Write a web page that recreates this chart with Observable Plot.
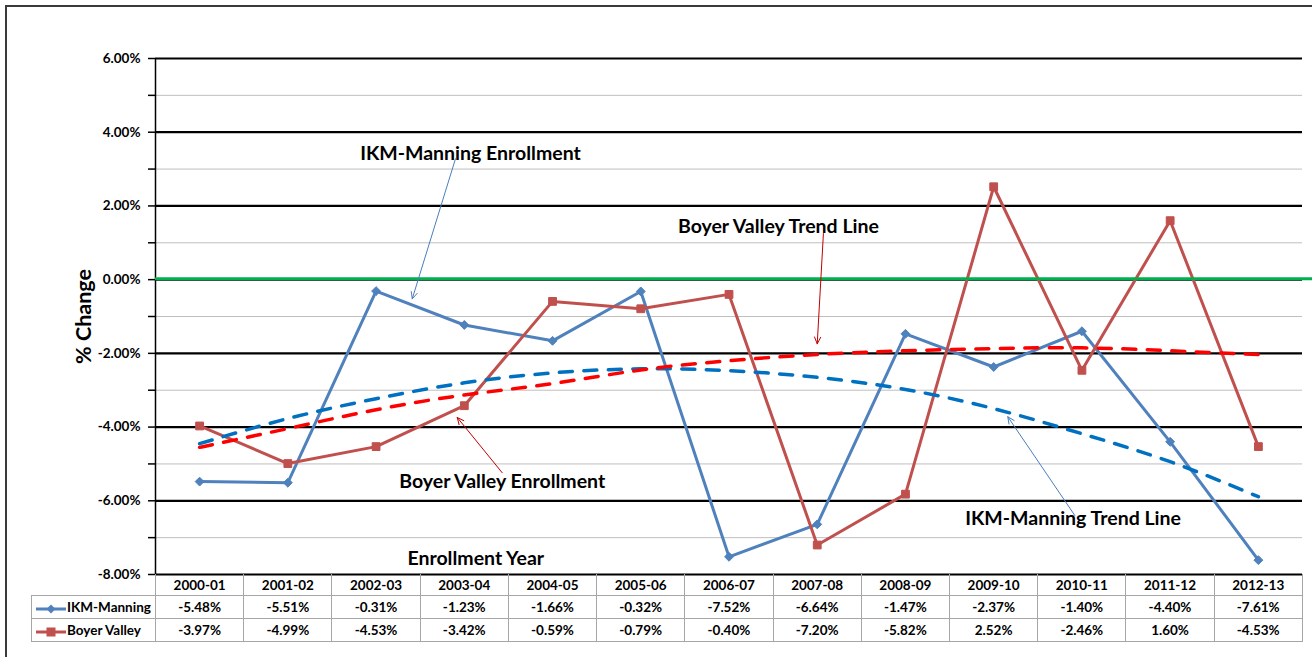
<!DOCTYPE html>
<html>
<head>
<meta charset="utf-8">
<script src="https://cdn.jsdelivr.net/npm/d3@7"></script>
<script src="https://cdn.jsdelivr.net/npm/@observablehq/plot@0.6"></script>
<style>
  body { margin: 0; background: #fff; font-family: Lato, "Open Sans", sans-serif; }
  #wrap { position: relative; width: 1312px; height: 657px; overflow: hidden; background: #fff; }
  #border { position: absolute; left: 5px; top: 5px; width: 1400px; height: 800px; border: 2.5px solid #3a3a3a; box-sizing: border-box; }
  #plot { position: absolute; left: 0; top: 0; }
  #tbl { position: absolute; left: 31px; top: 574px; border-collapse: collapse; table-layout: fixed; font-family: Lato, sans-serif; font-weight: 700; font-size: 13.5px; color: #000; }
  #tbl td { border: 1px solid #a6a6a6; text-align: center; padding: 0; white-space: nowrap; overflow: hidden; }
  #tbl tr.head td { border-top: 0; height: 21px; }
  #tbl tr.head td.blank { border: 0; }
  #tbl tr.row td { height: 22px; }
  #tbl td.leg { text-align: left; padding-left: 3px; }
  #tbl td.leg svg { vertical-align: middle; margin-right: 0px; }
</style>
</head>
<body>
<div id="wrap"><div id="border"></div><div id="plot"></div></div>
<script>
// ---- data ----
const categories = ["2000-01","2001-02","2002-03","2003-04","2004-05","2005-06","2006-07","2007-08","2008-09","2009-10","2010-11","2011-12","2012-13"];
const ikmManning = [-5.48,-5.51,-0.31,-1.23,-1.66,-0.32,-7.52,-6.64,-1.47,-2.37,-1.40,-4.40,-7.61];
const boyerValley = [-3.97,-4.99,-4.53,-3.42,-0.59,-0.79,-0.40,-7.20,-5.82,2.52,-2.46,1.60,-4.53];
const ikmTrend = [-4.45,-3.77,-3.23,-2.80,-2.53,-2.42,-2.47,-2.65,-2.98,-3.50,-4.18,-4.94,-5.89];
const boyerTrend = [-4.55,-4.04,-3.53,-3.13,-2.82,-2.45,-2.20,-2.03,-1.93,-1.87,-1.85,-1.93,-2.03];
const seriesNames = ["IKM-Manning","Boyer Valley"];
const majorTicks = [-8,-6,-4,-2,0,2,4,6];
const minorTicks = [-7,-5,-3,-1,1,3,5];
const yLabel = "% Change";
const xLabel = "Enrollment Year";
// annotations (x in category index units, y in % units)
const noteText = ["IKM-Manning Enrollment","Boyer Valley Trend Line","Boyer Valley Enrollment","IKM-Manning Trend Line"];
const noteX = [4.07, 7.56, 4.43, 10.90];
const noteY = [3.42, 1.44, -5.48, -6.48];
const arrowX1 = [3.90, 8.07, 4.43, 10.92];
const arrowY1 = [3.28, 1.25, -5.24, -6.40];
const arrowX2 = [3.41, 8.00, 3.92, 10.16];
const arrowY2 = [-0.52, -1.74, -3.74, -3.72];
const xLabelPos = [4.13, -7.57];

// ---- styles ----
const blue = "#4f81bd", red = "#c0504d";
const trendBlue = "#0070c0", trendRed = "#ff0000";
const arrowColors = ["#4a7ebb", "#c00000", "#c00000", "#4a7ebb"];

const rows = (vals) => vals.map((v, i) => ({i: i + 1, v}));
const ikmRows = rows(ikmManning), bvRows = rows(boyerValley);
const ikmTrendRows = rows(ikmTrend), bvTrendRows = rows(boyerTrend);
const notes = noteText.map((t, k) => ({t, x: noteX[k], y: noteY[k], x1: arrowX1[k], y1: arrowY1[k], x2: arrowX2[k], y2: arrowY2[k], c: arrowColors[k]}));
const xDomain = [0.5, categories.length + 0.5];

const plot = Plot.plot({
  width: 1312,
  height: 592,
  marginLeft: 155,
  marginRight: 10,
  marginTop: 58,
  marginBottom: 18,
  x: {type: "linear", domain: xDomain, axis: null},
  y: {domain: [majorTicks[0], majorTicks[majorTicks.length - 1]], axis: null},
  style: {fontFamily: "Lato, sans-serif", background: "transparent", overflow: "visible", color: "#000"},
  marks: [
    Plot.ruleY(minorTicks, {stroke: "#bfbfbf", strokeWidth: 1}),
    Plot.ruleY(majorTicks, {stroke: "#000", strokeWidth: 2.2}),
    Plot.ruleX([xDomain[0]], {stroke: "#000", strokeWidth: 1.5}),
    Plot.axisY({ticks: majorTicks, tickSize: 7, tickPadding: 8, tickFormat: d => d.toFixed(2) + "%", fontWeight: "bold", fontSize: 13.5, stroke: "#000", strokeWidth: 1.5, label: null}),
    Plot.axisY({ticks: minorTicks, tickSize: 7, tickFormat: () => "", stroke: "#000", strokeWidth: 1.5, label: null}),
    Plot.text([yLabel], {frameAnchor: "left", dx: -71, rotate: -90, textAnchor: "middle", fontSize: 21.5, fontWeight: "bold", fill: "#000"}),
    Plot.line(ikmRows, {x: "i", y: "v", stroke: blue, strokeWidth: 3}),
    Plot.dot(ikmRows, {x: "i", y: "v", symbol: "diamond2", r: 4, fill: blue, stroke: blue, strokeWidth: 1}),
    Plot.line(bvRows, {x: "i", y: "v", stroke: red, strokeWidth: 3}),
    Plot.dot(bvRows, {x: "i", y: "v", symbol: "square", r: 4.4, fill: red, stroke: red, strokeWidth: 1}),
    Plot.line(ikmTrendRows, {x: "i", y: "v", curve: "natural", stroke: trendBlue, strokeWidth: 3.5, strokeDasharray: "13,11.5"}),
    Plot.line(bvTrendRows, {x: "i", y: "v", curve: "natural", stroke: trendRed, strokeWidth: 3.5, strokeDasharray: "13,11.5"}),
    Plot.ruleY([0], {stroke: "#00b050", strokeWidth: 3, dy: -1, insetRight: -10}),
    Plot.arrow(notes, {x1: "x1", y1: "y1", x2: "x2", y2: "y2", stroke: "c", strokeWidth: 1, headLength: 11, headAngle: 50}),
    Plot.text(notes, {x: "x", y: "y", text: "t", fontSize: 19.5, fontWeight: "bold", fill: "#000"}),
    Plot.text([xLabel], {x: () => xLabelPos[0], y: () => xLabelPos[1], fontSize: 19.5, fontWeight: "bold", fill: "#000"})
  ]
});
document.getElementById("plot").appendChild(plot);

// ---- data table (built from the same arrays, widths from Plot's x scale) ----
const xs = plot.scale("x");
const colW = xs.apply(2) - xs.apply(1);
const legW = xs.apply(xDomain[0]) - 31;
const tbl = d3.select("#wrap").append("table").attr("id", "tbl");
const cg = tbl.append("colgroup");
cg.append("col").style("width", legW + "px");
categories.forEach(() => cg.append("col").style("width", colW + "px"));
const head = tbl.append("tr").attr("class", "head");
head.append("td").attr("class", "blank");
categories.forEach(c => head.append("td").text(c));
const fmt = v => v.toFixed(2) + "%";
[[seriesNames[0], ikmManning, blue, "diamond"], [seriesNames[1], boyerValley, red, "square"]].forEach(([name, vals, col, sym]) => {
  const tr = tbl.append("tr").attr("class", "row");
  const td = tr.append("td").attr("class", "leg");
  const s = td.append("svg").attr("width", 32).attr("height", 12);
  s.append("line").attr("x1", 1).attr("x2", 31).attr("y1", 6).attr("y2", 6).attr("stroke", col).attr("stroke-width", 3);
  if (sym === "diamond") s.append("path").attr("d", "M16,1.5L20.5,6L16,10.5L11.5,6Z").attr("fill", col);
  else s.append("rect").attr("x", 11.5).attr("y", 1.5).attr("width", 9).attr("height", 9).attr("fill", col);
  td.append("span").text(name);
  vals.forEach(v => tr.append("td").text(fmt(v)));
});
</script>
</body>
</html>
